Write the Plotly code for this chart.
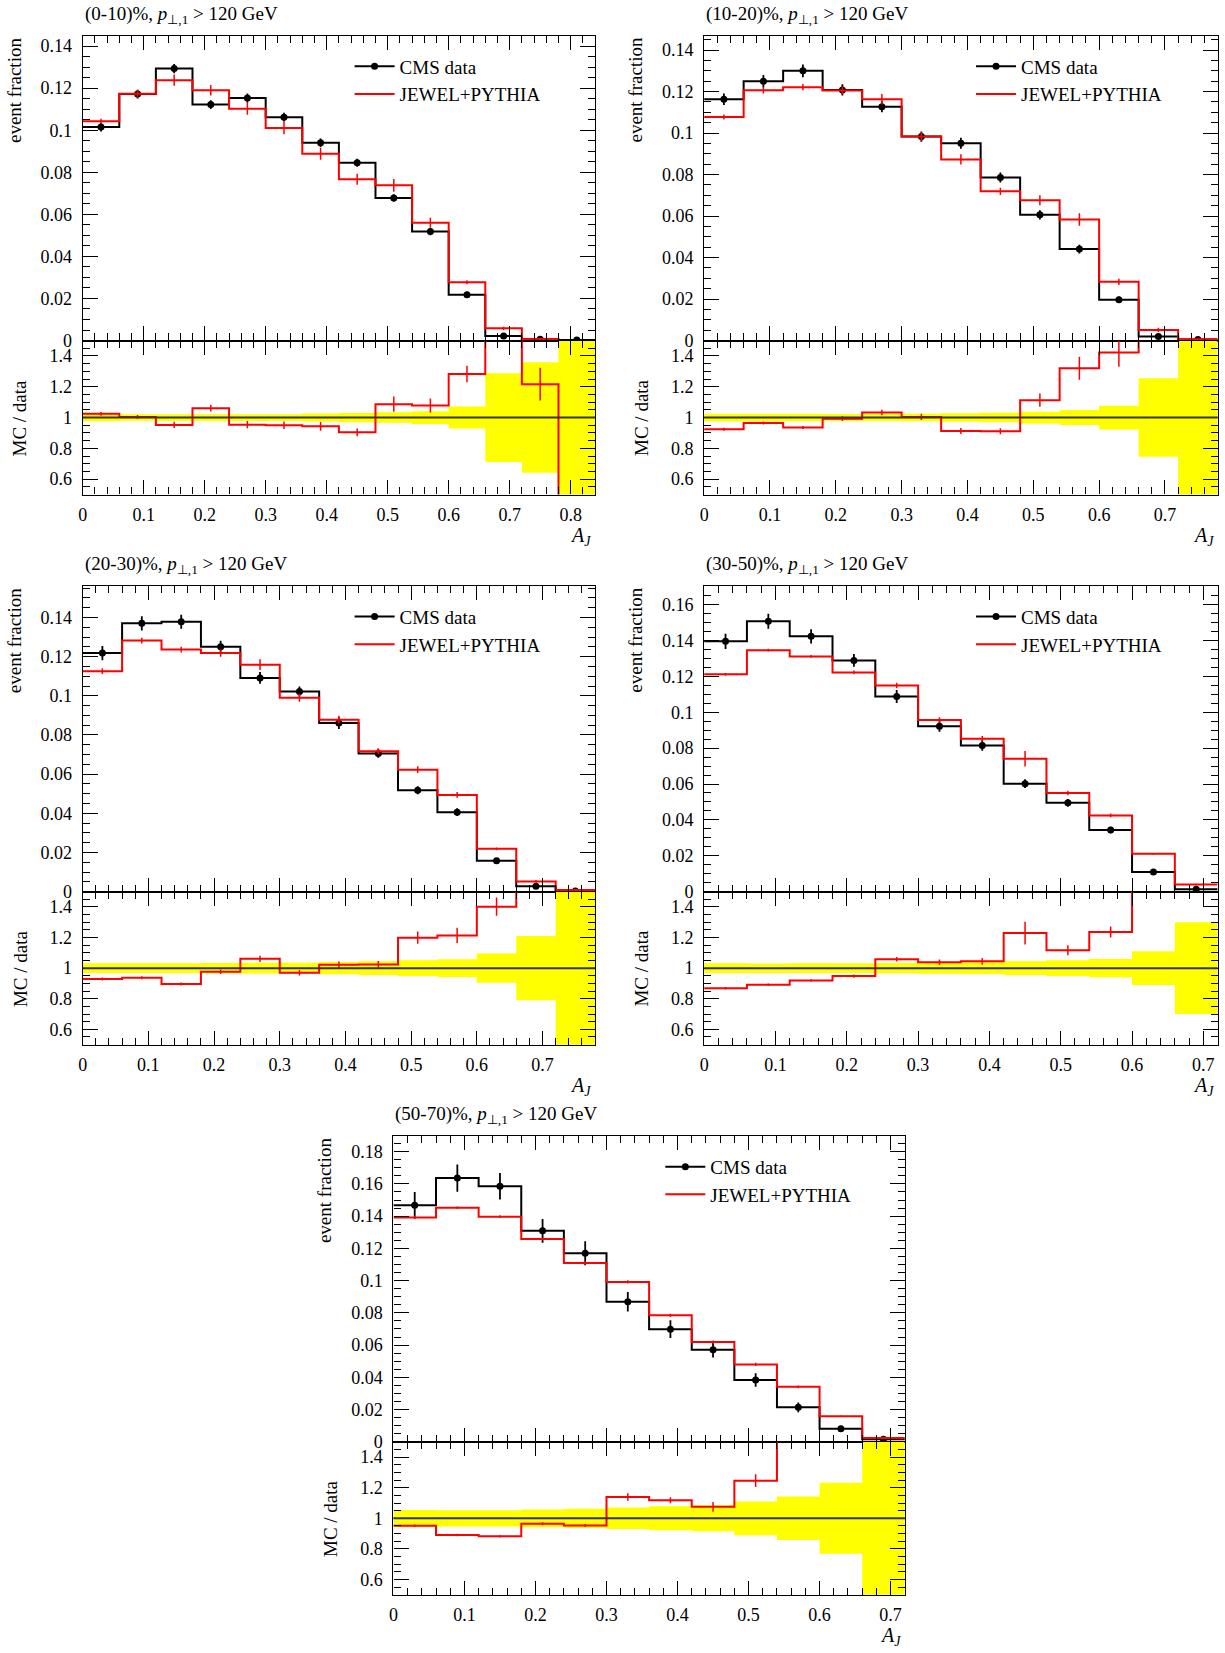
import plotly.graph_objects as go

W, H = 1225, 1653
FONT = "Liberation Serif"

# ---------------- bins ----------------
edges = [0.00, 0.06, 0.12, 0.18, 0.24, 0.30, 0.36, 0.42, 0.48, 0.54, 0.60, 0.66, 0.72, 0.78, 0.84]
centers = [0.03, 0.09, 0.15, 0.21, 0.27, 0.33, 0.39, 0.45, 0.51, 0.57, 0.63, 0.69, 0.75, 0.81]

# ---------------- (0-10)% ----------------
data1 = [0.1015, 0.1172, 0.1293, 0.1122, 0.1153, 0.1062, 0.0940, 0.0845, 0.0678, 0.0518, 0.0218, 0.0021, 0.0006, 0.0002]
data1_err = [0.0021, 0.0021, 0.0022, 0.0021, 0.0022, 0.0021, 0.0021, 0.0019, 0.0018, 0.0017, 0.0014, 0.0006, 0.0002, 0.0002]
mc1 = [0.1043, 0.1173, 0.1238, 0.1190, 0.1102, 0.1011, 0.0888, 0.0767, 0.0738, 0.0560, 0.0277, 0.0058, 0.0007]
mc1_err = [0.0012, 0.0018, 0.0027, 0.0025, 0.0028, 0.0030, 0.0028, 0.0026, 0.0030, 0.0024, 0.0010, 0.0008, 0.0003]
ratio1 = [1.024, 1.004, 0.952, 1.061, 0.954, 0.950, 0.943, 0.904, 1.087, 1.078, 1.283, 2.900, 1.217, 0.000]
ratio1_err = [0.012, 0.012, 0.020, 0.022, 0.024, 0.024, 0.028, 0.025, 0.050, 0.045, 0.053, 0.0, 0.107, 0.0]
band1 = [0.024, 0.021, 0.022, 0.022, 0.022, 0.022, 0.026, 0.030, 0.034, 0.041, 0.071, 0.288, 0.359, 1.0]

# ---------------- (10-20)% ----------------
data2 = [0.1163, 0.1250, 0.1300, 0.1208, 0.1127, 0.0983, 0.0951, 0.0786, 0.0606, 0.0441, 0.0197, 0.0020, 0.0005]
data2_err = [0.0028, 0.0030, 0.0031, 0.0027, 0.0026, 0.0025, 0.0026, 0.0024, 0.0022, 0.0021, 0.0015, 0.0005, 0.0004]
mc2 = [0.1078, 0.1206, 0.1221, 0.1205, 0.1163, 0.0984, 0.0873, 0.0719, 0.0676, 0.0583, 0.0283, 0.0051, 0.0006]
mc2_err = [0.0012, 0.0015, 0.0015, 0.0018, 0.0025, 0.0020, 0.0025, 0.0018, 0.0024, 0.0030, 0.0015, 0.0010, 0.0003]
ratio2 = [0.924, 0.965, 0.935, 0.993, 1.033, 1.004, 0.913, 0.911, 1.113, 1.320, 1.422, 2.500, 2.000]
ratio2_err = [0.010, 0.010, 0.010, 0.015, 0.018, 0.020, 0.020, 0.020, 0.043, 0.074, 0.092, 0.0, 0.0]
band2 = [0.025, 0.024, 0.024, 0.023, 0.023, 0.024, 0.028, 0.031, 0.038, 0.049, 0.077, 0.255, 1.0]

# ---------------- (20-30)% ----------------
data3 = [0.1218, 0.1370, 0.1378, 0.1250, 0.1091, 0.1022, 0.0861, 0.0706, 0.0518, 0.0406, 0.0158, 0.0028, 0.0004]
data3_err = [0.0036, 0.0036, 0.0036, 0.0031, 0.0030, 0.0026, 0.0030, 0.0022, 0.0020, 0.0020, 0.0012, 0.0006, 0.0004]
mc3 = [0.1126, 0.1282, 0.1236, 0.1218, 0.1159, 0.0990, 0.0878, 0.0717, 0.0623, 0.0494, 0.0219, 0.0052, 0.0008]
mc3_err = [0.0015, 0.0015, 0.0015, 0.0018, 0.0027, 0.0020, 0.0020, 0.0015, 0.0017, 0.0015, 0.0007, 0.0007, 0.0002]
ratio3 = [0.929, 0.937, 0.896, 0.976, 1.061, 0.970, 1.022, 1.024, 1.199, 1.214, 1.402, 1.900, 2.000]
ratio3_err = [0.010, 0.010, 0.010, 0.015, 0.020, 0.018, 0.022, 0.022, 0.040, 0.050, 0.060, 0.0, 0.0]
band3 = [0.032, 0.032, 0.032, 0.033, 0.035, 0.036, 0.040, 0.045, 0.052, 0.058, 0.095, 0.210, 1.0]

# ---------------- (30-50)% ----------------
data4 = [0.1395, 0.1507, 0.1423, 0.1289, 0.1088, 0.0922, 0.0815, 0.0602, 0.0495, 0.0344, 0.0110, 0.0014]
data4_err = [0.0042, 0.0042, 0.0040, 0.0036, 0.0036, 0.0031, 0.0030, 0.0024, 0.0022, 0.0018, 0.0011, 0.0004]
mc4 = [0.1211, 0.1346, 0.1311, 0.1222, 0.1149, 0.0957, 0.0852, 0.0741, 0.0550, 0.0425, 0.0211, 0.0040]
mc4_err = [0.0008, 0.0008, 0.0008, 0.0010, 0.0015, 0.0015, 0.0015, 0.0043, 0.0012, 0.0010, 0.0005, 0.0004]
ratio4 = [0.868, 0.892, 0.920, 0.948, 1.058, 1.039, 1.045, 1.229, 1.117, 1.236, 1.920, 2.900]
ratio4_err = [0.008, 0.008, 0.008, 0.010, 0.015, 0.018, 0.022, 0.074, 0.032, 0.036, 0.0, 0.0]
band4 = [0.032, 0.031, 0.032, 0.032, 0.034, 0.037, 0.039, 0.045, 0.052, 0.060, 0.110, 0.300]

# ---------------- (50-70)% ----------------
data5 = [0.1468, 0.1636, 0.1585, 0.1309, 0.1170, 0.0869, 0.0699, 0.0572, 0.0384, 0.0214, 0.0081, 0.0016]
data5_err = [0.0082, 0.0084, 0.0082, 0.0074, 0.0074, 0.0061, 0.0055, 0.0049, 0.0042, 0.0030, 0.0019, 0.0016]
mc5 = [0.1391, 0.1452, 0.1397, 0.1258, 0.1110, 0.0992, 0.0785, 0.0619, 0.0480, 0.0341, 0.0159, 0.0024]
mc5_err = [0.0008, 0.0008, 0.0008, 0.0008, 0.0010, 0.0010, 0.0010, 0.0010, 0.0010, 0.0008, 0.0005, 0.0003]
ratio5 = [0.951, 0.891, 0.882, 0.964, 0.953, 1.139, 1.118, 1.075, 1.246, 1.590, 1.960, 1.550]
ratio5_err = [0.008, 0.008, 0.008, 0.010, 0.010, 0.025, 0.020, 0.032, 0.042, 0.0, 0.0, 0.0]
band5 = [0.055, 0.053, 0.053, 0.058, 0.062, 0.070, 0.078, 0.085, 0.110, 0.142, 0.232, 1.0]

titles = ["(0-10)%", "(10-20)%", "(20-30)%", "(30-50)%", "(50-70)%"]
x_max = [0.84, 0.78, 0.78, 0.72, 0.72]
y_max = [0.145, 0.147, 0.1562, 0.1705, 0.1898]

# pixel boxes: left, right, top, mid, bottom
boxes = [
    (78, 592.5, 35.8, 342.6, 497.6),
    (702, 1217.6, 35.8, 342.6, 497.6),
    (78, 592.5, 589.3, 897.1, 1051.0),
    (702, 1217.6, 589.3, 897.1, 1051.0),
    (390, 903.5, 1142.8, 1450.6, 1604.5),
]

panels = [
    (data1, data1_err, mc1, mc1_err, ratio1, ratio1_err, band1),
    (data2, data2_err, mc2, mc2_err, ratio2, ratio2_err, band2),
    (data3, data3_err, mc3, mc3_err, ratio3, ratio3_err, band3),
    (data4, data4_err, mc4, mc4_err, ratio4, ratio4_err, band4),
    (data5, data5_err, mc5, mc5_err, ratio5, ratio5_err, band5),
]

fig = go.Figure()
layout = dict(
    width=W, height=H, margin=dict(l=0, r=0, t=0, b=0),
    paper_bgcolor="white", plot_bgcolor="white",
    font=dict(family=FONT, size=18, color="black"),
    showlegend=True,
)
annotations = []
shapes = []

def sid(i):
    return "" if i == 1 else str(i)

tick_common = dict(
    ticks="inside", showline=True, linecolor="black", linewidth=1.2,
    mirror="allticks", tickcolor="black", tickwidth=1.2,
    showgrid=False, zeroline=False,
    tickfont=dict(family=FONT, size=18, color="black"),
)

for k, (dat, dat_e, mc, mc_e, rat, rat_e, band) in enumerate(panels):
    im, ir = 2 * k + 1, 2 * k + 2
    xm, ym, xr, yr = "x" + sid(im), "y" + sid(im), "x" + sid(ir), "y" + sid(ir)
    left, right, top, mid, bottom = boxes[k]
    xdom = [left / W, right / W]
    dom_main = [1 - mid / H, 1 - top / H]
    dom_ratio = [1 - bottom / H, 1 - mid / H]
    nd, nm = len(dat), len(mc)

    layout["xaxis" + sid(im)] = dict(
        domain=xdom, anchor=ym, matches=xr, range=[0, x_max[k]],
        dtick=0.1, tick0=0, ticklen=14, showticklabels=False,
        minor=dict(ticks="inside", dtick=0.02, tick0=0, ticklen=7, tickcolor="black", tickwidth=1.2, showgrid=False),
        **tick_common)
    layout["yaxis" + sid(im)] = dict(
        domain=dom_main, anchor=xm, range=[0, y_max[k]],
        dtick=0.02, tick0=0, ticklen=15, ticklabelstandoff=6,
        minor=dict(ticks="inside", dtick=0.005, tick0=0, ticklen=7, tickcolor="black", tickwidth=1.2, showgrid=False),
        **tick_common)
    layout["xaxis" + sid(ir)] = dict(
        domain=xdom, anchor=yr, range=[0, x_max[k]],
        dtick=0.1, tick0=0, ticklen=14, ticklabelstandoff=4,
        minor=dict(ticks="inside", dtick=0.02, tick0=0, ticklen=7, tickcolor="black", tickwidth=1.2, showgrid=False),
        **tick_common)
    layout["yaxis" + sid(ir)] = dict(
        domain=dom_ratio, anchor=xr, range=[0.5, 1.5],
        dtick=0.2, tick0=0, ticklen=15, ticklabelstandoff=6,
        minor=dict(ticks="inside", dtick=0.05, tick0=0, ticklen=7, tickcolor="black", tickwidth=1.2, showgrid=False),
        **tick_common)

    # ---- ratio panel: data uncertainty band ----
    lo = [1 - b for b in band]
    hi = [1 + b for b in band]
    fig.add_trace(go.Scatter(x=edges[:nd + 1], y=lo + [lo[-1]], mode="lines",
                             line=dict(width=0, shape="hv", color="#ffff00"),
                             xaxis=xr, yaxis=yr, showlegend=False, hoverinfo="skip"))
    fig.add_trace(go.Scatter(x=edges[:nd + 1], y=hi + [hi[-1]], mode="lines",
                             line=dict(width=0, shape="hv", color="#ffff00"),
                             fill="tonexty", fillcolor="#ffff00",
                             xaxis=xr, yaxis=yr, showlegend=False, hoverinfo="skip"))
    # MC / data
    fig.add_trace(go.Scatter(x=edges[:nd + 1], y=rat + [rat[-1]], mode="lines",
                             line=dict(width=2, shape="hv", color="#ff0000"),
                             xaxis=xr, yaxis=yr, showlegend=False, hoverinfo="skip"))
    fig.add_trace(go.Scatter(x=centers[:nd], y=rat, mode="markers",
                             marker=dict(size=1, color="rgba(0,0,0,0)"),
                             error_y=dict(type="data", array=rat_e, visible=True, color="#ff0000", thickness=1.5, width=0),
                             xaxis=xr, yaxis=yr, showlegend=False, hoverinfo="skip"))
    shapes.append(dict(type="line", xref=xr + " domain", yref=yr, x0=0, x1=1, y0=1, y1=1,
                       line=dict(color="#333333", width=2), layer="above"))

    # ---- main panel ----
    fig.add_trace(go.Scatter(x=edges[:nd + 1], y=dat + [dat[-1]], mode="lines",
                             line=dict(width=2, shape="hv", color="black"),
                             xaxis=xm, yaxis=ym, showlegend=False, hoverinfo="skip"))
    fig.add_trace(go.Scatter(x=centers[:nd], y=dat, mode="markers",
                             marker=dict(size=7, color="black"),
                             error_y=dict(type="data", array=dat_e, visible=True, color="black", thickness=1.8, width=0),
                             xaxis=xm, yaxis=ym, showlegend=False, hoverinfo="skip"))
    fig.add_trace(go.Scatter(x=edges[:nm + 1], y=mc + [mc[-1]], mode="lines",
                             line=dict(width=2, shape="hv", color="#ff0000"),
                             xaxis=xm, yaxis=ym, showlegend=False, hoverinfo="skip"))
    fig.add_trace(go.Scatter(x=centers[:nm], y=mc, mode="markers",
                             marker=dict(size=1, color="rgba(0,0,0,0)"),
                             error_y=dict(type="data", array=mc_e, visible=True, color="#ff0000", thickness=1.5, width=0),
                             xaxis=xm, yaxis=ym, showlegend=False, hoverinfo="skip"))

    # ---- legend entries ----
    lg = "legend" + sid(k + 1)
    fig.add_trace(go.Scatter(x=[None], y=[None], mode="lines+markers", name="CMS data",
                             line=dict(color="black", width=2), marker=dict(size=7, color="black"),
                             xaxis=xm, yaxis=ym, legend=lg))
    fig.add_trace(go.Scatter(x=[None], y=[None], mode="lines", name="JEWEL+PYTHIA",
                             line=dict(color="#ff0000", width=2),
                             xaxis=xm, yaxis=ym, legend=lg))
    layout[lg] = dict(
        x=(left + 268) / W, y=1 - (top + 12) / H, xanchor="left", yanchor="top",
        xref="paper", yref="paper", bgcolor="rgba(0,0,0,0)", borderwidth=0,
        font=dict(family=FONT, size=19, color="black"), itemwidth=40, tracegroupgap=0,
        traceorder="normal",
    )

    # ---- texts ----
    annotations.append(dict(
        text=titles[k] + ", <i>p</i><sub>\u22a5,1</sub> &gt; 120 GeV",
        xref="paper", yref="paper", x=left / W, y=1 - (top - 21) / H,
        xanchor="left", yanchor="middle", showarrow=False,
        font=dict(family=FONT, size=19, color="black")))
    annotations.append(dict(
        text="event fraction", textangle=-90,
        xref="paper", yref="paper", x=(left - 69) / W, y=1 - top / H,
        xanchor="center", yanchor="top", showarrow=False,
        font=dict(family=FONT, size=19, color="black")))
    annotations.append(dict(
        text="MC / data", textangle=-90,
        xref="paper", yref="paper", x=(left - 63) / W, y=1 - (mid + bottom) / 2 / H,
        xanchor="center", yanchor="middle", showarrow=False,
        font=dict(family=FONT, size=19, color="black")))
    annotations.append(dict(
        text="<i>A</i><sub><i>J</i></sub>",
        xref="paper", yref="paper", x=(right - 2) / W, y=1 - (bottom + 42) / H,
        xanchor="right", yanchor="middle", showarrow=False,
        font=dict(family=FONT, size=20, color="black")))

layout["annotations"] = annotations
layout["shapes"] = shapes
fig.update_layout(**layout)
fig.write_html("out.html")
